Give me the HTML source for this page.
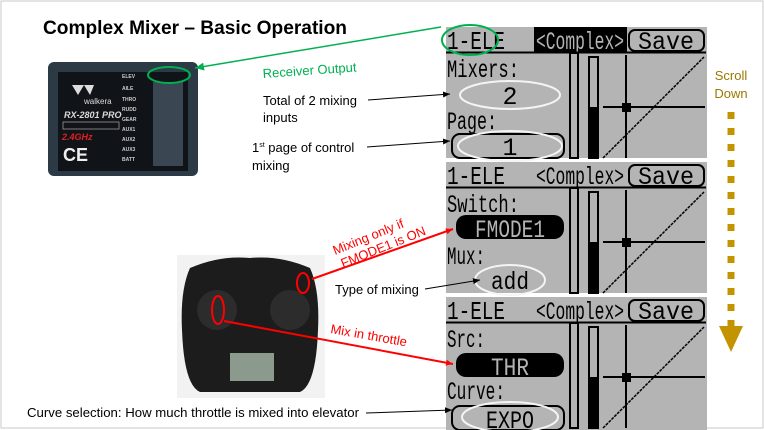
<!DOCTYPE html>
<html><head><meta charset="utf-8"><style>
html,body{margin:0;padding:0;background:#fff}
svg{display:block}
.m{font-family:"Liberation Mono",monospace}
.s{font-family:"Liberation Sans",sans-serif}
</style></head><body>
<svg width="764" height="430" viewBox="0 0 764 430" xmlns="http://www.w3.org/2000/svg">
<defs>
<marker id="ab" markerWidth="8" markerHeight="8" refX="7" refY="4" orient="auto" markerUnits="userSpaceOnUse"><path d="M0,1 L7,4 L0,7z" fill="#000"/></marker>
<marker id="ag" markerWidth="10" markerHeight="10" refX="9" refY="5" orient="auto" markerUnits="userSpaceOnUse"><path d="M0,1 L9,5 L0,9z" fill="#00b050"/></marker>
<marker id="ar" markerWidth="8" markerHeight="8" refX="7" refY="4" orient="auto" markerUnits="userSpaceOnUse"><path d="M0,1 L7,4 L0,7z" fill="#f00"/></marker>
<g id="graph">
  <rect x="124" y="26" width="8" height="105" fill="none" stroke="#000" stroke-width="2"/>
  <rect x="143" y="30" width="9" height="101" fill="none" stroke="#000" stroke-width="2"/>
  <rect x="143" y="80" width="9" height="51" fill="#000"/>
  <line x1="180" y1="28" x2="180" y2="131" stroke="#000" stroke-width="2"/>
  <line x1="157" y1="80" x2="259" y2="80" stroke="#000" stroke-width="2"/>
  <line x1="157" y1="131" x2="258" y2="30" stroke="#000" stroke-width="1.5" stroke-dasharray="3,1"/>
  <rect x="176" y="76" width="9" height="9" fill="#000"/>
  <rect x="183" y="3" width="75" height="21" rx="6" fill="none" stroke="#000" stroke-width="2"/>
  <text x="220" y="22" class="m" font-size="25" text-anchor="middle" textLength="56" lengthAdjust="spacingAndGlyphs">Save</text>
  <line x1="0" y1="25.5" x2="260" y2="25.5" stroke="#000" stroke-width="2"/>
  <text x="1" y="22" class="m" font-size="26" textLength="58" lengthAdjust="spacingAndGlyphs">1-ELE</text>
</g>
</defs>
<rect x="1" y="1" width="762" height="427" fill="#fff" stroke="#c8c8c8"/>
<text x="43" y="34" class="s" font-size="19" font-weight="bold" textLength="304" lengthAdjust="spacingAndGlyphs">Complex Mixer – Basic Operation</text>

<!-- receiver -->
<rect x="48" y="62" width="150" height="114" rx="6" fill="#2c3a46"/>
<rect x="58" y="72" width="130" height="99" fill="#101418"/>
<text x="84" y="104" class="s" font-size="8" fill="#ddd">walkera</text>
<text x="64" y="118" class="s" font-size="9" font-weight="bold" font-style="italic" fill="#ddd">RX-2801 PRO</text>
<rect x="63" y="122" width="56" height="7" fill="none" stroke="#aaa" stroke-width="0.7"/>
<text x="62" y="140" class="s" font-size="9" font-weight="bold" font-style="italic" fill="#e02020">2.4GHz</text>
<text x="63" y="161" class="s" font-size="18" font-weight="bold" fill="#eee">CE</text>
<path d="M72,85 l6,10 l6,-10 l6,10 l4,-10z" fill="#ddd"/>
<g class="s" font-size="5" fill="#ccc" font-weight="bold">
<text x="122" y="78">ELEV</text><text x="122" y="90">AILE</text><text x="122" y="101">THRO</text><text x="122" y="111">RUDD</text><text x="122" y="121">GEAR</text><text x="122" y="131">AUX1</text><text x="122" y="141">AUX2</text><text x="122" y="151">AUX3</text><text x="122" y="161">BATT</text>
</g>
<rect x="153" y="82" width="30" height="84" fill="#3a4652"/>
<ellipse cx="169" cy="75" rx="21" ry="8" fill="none" stroke="#00b050" stroke-width="2"/>

<!-- transmitter -->
<rect x="177" y="255" width="148" height="143" fill="#f2f2f2"/>
<path d="M190,268 Q220,255 250,258 Q280,255 310,268 Q320,290 318,330 Q316,385 300,392 L200,392 Q184,385 182,330 Q180,290 190,268z" fill="#1c1c1c"/>
<circle cx="217" cy="310" r="20" fill="#2c2c2c"/><circle cx="290" cy="310" r="20" fill="#2c2c2c"/>
<rect x="230" y="353" width="44" height="28" fill="#8c9a8e"/>
<ellipse cx="218" cy="310" rx="6" ry="14" fill="none" stroke="#f00" stroke-width="2"/>
<ellipse cx="303" cy="283" rx="6" ry="10" fill="none" stroke="#f00" stroke-width="2"/>

<!-- screens -->
<g transform="translate(446,27)">
  <rect width="261" height="131" fill="#b4b4b4"/>
  <rect x="88" y="0" width="93" height="25" fill="#000"/>
  <text x="134" y="22" class="m" font-size="25" text-anchor="middle" fill="#b4b4b4" textLength="88" lengthAdjust="spacingAndGlyphs">&lt;Complex&gt;</text>
  <use href="#graph"/>
  <text x="1" y="50" class="m" font-size="25" textLength="72" lengthAdjust="spacingAndGlyphs">Mixers:</text>
  <text x="64" y="77" class="m" font-size="25" text-anchor="middle">2</text>
  <text x="1" y="102" class="m" font-size="25" textLength="50" lengthAdjust="spacingAndGlyphs">Page:</text>
  <rect x="6" y="107" width="112" height="24" rx="8" fill="none" stroke="#000" stroke-width="2"/>
  <text x="64" y="128" class="m" font-size="25" text-anchor="middle">1</text>
  <ellipse cx="64" cy="68" rx="50" ry="14" fill="none" stroke="#f4f4f4" stroke-width="2"/>
  <ellipse cx="64" cy="119" rx="52" ry="15" fill="none" stroke="#f4f4f4" stroke-width="2"/>
</g>
<g transform="translate(446,162)">
  <rect width="261" height="131" fill="#b4b4b4"/>
  <text x="134" y="22" class="m" font-size="25" text-anchor="middle" textLength="88" lengthAdjust="spacingAndGlyphs">&lt;Complex&gt;</text>
  <use href="#graph"/>
  <text x="1" y="50" class="m" font-size="25" textLength="72" lengthAdjust="spacingAndGlyphs">Switch:</text>
  <rect x="10" y="53" width="108" height="24" rx="10" fill="#000"/>
  <text x="64" y="75" class="m" font-size="25" text-anchor="middle" fill="#b4b4b4" textLength="70" lengthAdjust="spacingAndGlyphs">FMODE1</text>
  <text x="1" y="102" class="m" font-size="25" textLength="38" lengthAdjust="spacingAndGlyphs">Mux:</text>
  <text x="64" y="127" class="m" font-size="25" text-anchor="middle" textLength="38" lengthAdjust="spacingAndGlyphs">add</text>
  <ellipse cx="64" cy="118" rx="35" ry="15" fill="none" stroke="#f4f4f4" stroke-width="2"/>
</g>
<g transform="translate(446,297)">
  <rect width="261" height="133" fill="#b4b4b4"/>
  <text x="134" y="22" class="m" font-size="25" text-anchor="middle" textLength="88" lengthAdjust="spacingAndGlyphs">&lt;Complex&gt;</text>
  <use href="#graph"/>
  <text x="1" y="50" class="m" font-size="25" textLength="38" lengthAdjust="spacingAndGlyphs">Src:</text>
  <rect x="10" y="56" width="108" height="24" rx="10" fill="#000"/>
  <text x="64" y="78" class="m" font-size="25" text-anchor="middle" fill="#b4b4b4" textLength="38" lengthAdjust="spacingAndGlyphs">THR</text>
  <text x="1" y="102" class="m" font-size="25" textLength="58" lengthAdjust="spacingAndGlyphs">Curve:</text>
  <rect x="6" y="109" width="112" height="24" rx="8" fill="none" stroke="#000" stroke-width="2"/>
  <text x="64" y="131" class="m" font-size="25" text-anchor="middle" textLength="48" lengthAdjust="spacingAndGlyphs">EXPO</text>
  <ellipse cx="64" cy="120" rx="48" ry="15" fill="none" stroke="#f4f4f4" stroke-width="2"/>
</g>
<ellipse cx="470" cy="40" rx="28" ry="15" fill="none" stroke="#00b050" stroke-width="2"/>

<!-- connectors -->
<line x1="441" y1="27" x2="195" y2="68" stroke="#00b050" stroke-width="1.5" marker-end="url(#ag)"/>
<text x="263" y="78" class="s" font-size="13" fill="#00b050" transform="rotate(-4 263 78)">Receiver Output</text>
<line x1="368" y1="100" x2="450" y2="94" stroke="#000" marker-end="url(#ab)"/>
<line x1="367" y1="147" x2="450" y2="141" stroke="#000" marker-end="url(#ab)"/>
<line x1="425" y1="289" x2="480" y2="280" stroke="#000" marker-end="url(#ab)"/>
<line x1="366" y1="413" x2="452" y2="410" stroke="#000" marker-end="url(#ab)"/>
<line x1="312" y1="279" x2="453" y2="229" stroke="#f00" stroke-width="2" marker-end="url(#ar)"/>
<line x1="224" y1="321" x2="453" y2="364" stroke="#f00" stroke-width="2" marker-end="url(#ar)"/>

<g class="s" font-size="13" fill="#000">
<text x="263" y="105">Total of 2 mixing</text><text x="263" y="122">inputs</text>
<text x="252" y="152">1<tspan font-size="7" dy="-5">st</tspan><tspan dy="5"> page of control</tspan></text><text x="252" y="170">mixing</text>
<text x="335" y="294">Type of mixing</text>
<text x="27" y="417" textLength="332" lengthAdjust="spacingAndGlyphs">Curve selection: How much throttle is mixed into elevator</text>
</g>
<g class="s" font-size="13" fill="#f00">
<text x="335" y="255" transform="rotate(-22 335 255)">Mixing only if</text>
<text x="343" y="268" transform="rotate(-22 343 268)">FMODE1 is ON</text>
<text x="330" y="333" transform="rotate(10 330 333)">Mix in throttle</text>
</g>

<!-- scroll -->
<g class="s" font-size="13" fill="#9a7800" text-anchor="middle">
<text x="731" y="80">Scroll</text><text x="731" y="98">Down</text>
</g>
<line x1="731" y1="112" x2="731" y2="326" stroke="#c49400" stroke-width="7" stroke-dasharray="7,9"/>
<path d="M719,326 L743,326 L731,352z" fill="#c49400"/>
</svg>
</body></html>
